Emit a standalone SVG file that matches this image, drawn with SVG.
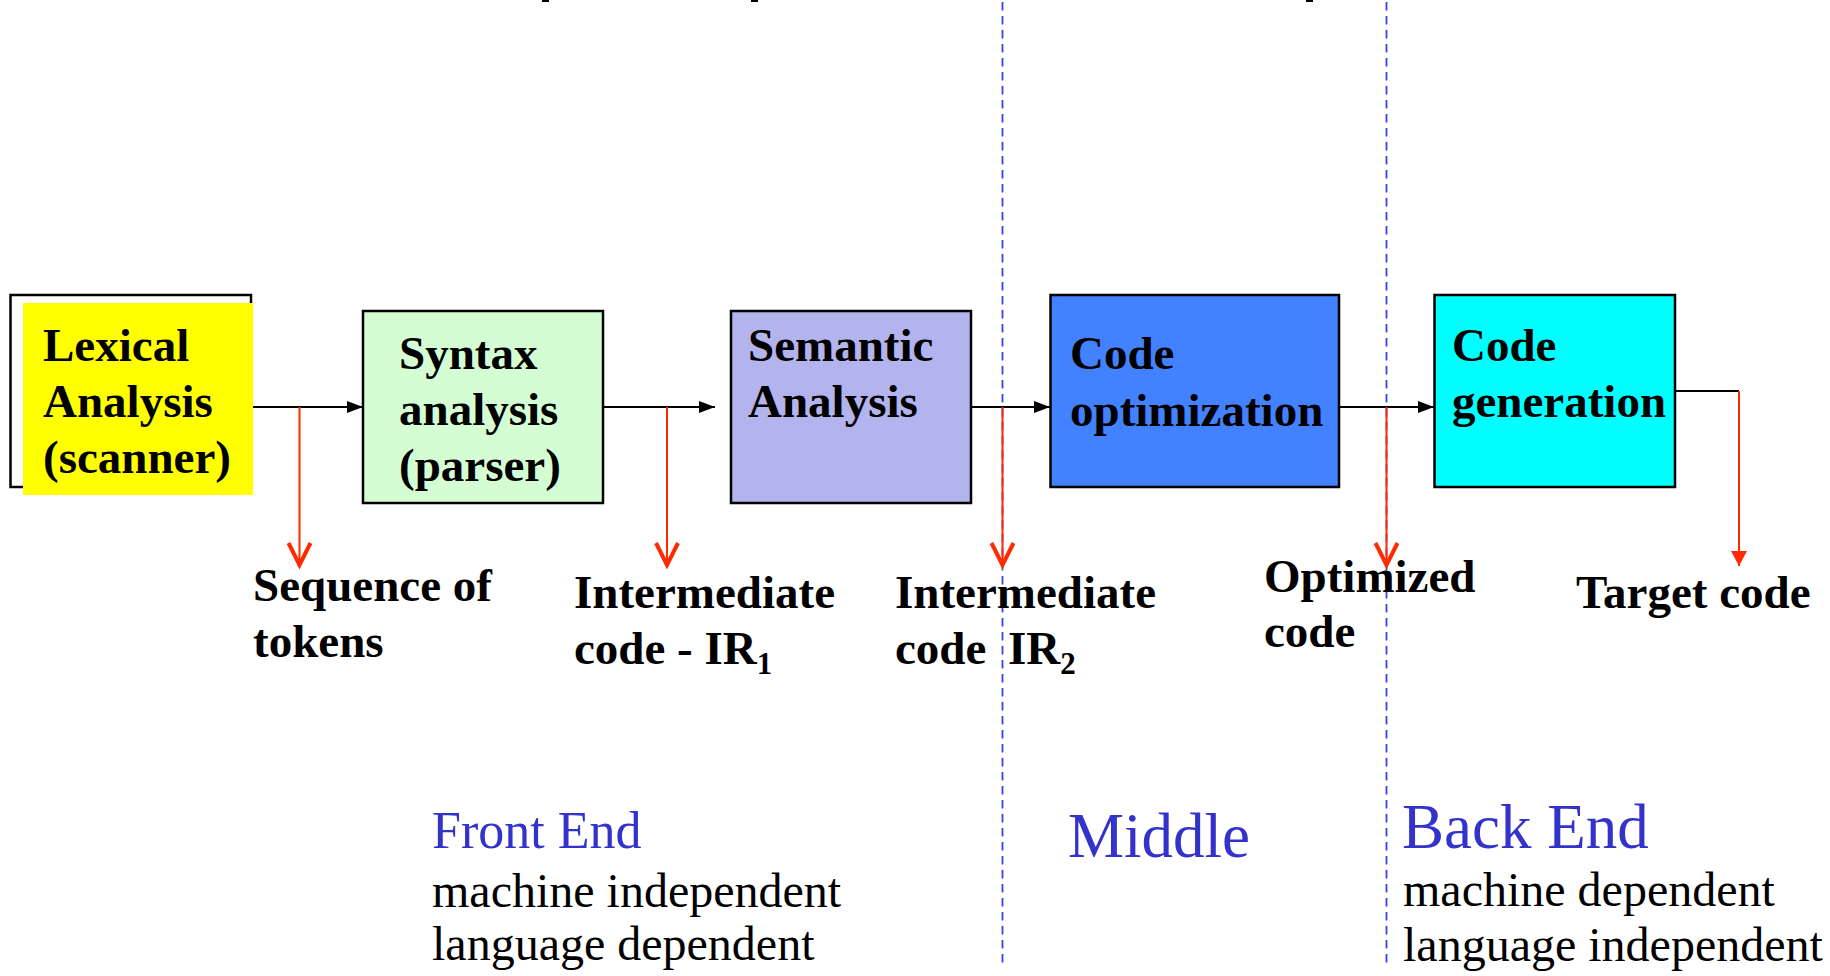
<svg xmlns="http://www.w3.org/2000/svg" width="1830" height="976" viewBox="0 0 1830 976">
<style>
.box{stroke:#000;stroke-width:2.5}
.lbl{font-family:"Liberation Serif","Times New Roman",serif;font-weight:bold;font-size:47px;fill:#000}
.sub{font-size:31px}
.reg{font-family:"Liberation Serif","Times New Roman",serif;font-size:48px;fill:#000}
.blue{fill:#3333cc}
.flow{stroke:#000;stroke-width:2;fill:none}
.red{stroke:#ff2a00;stroke-width:2;fill:none}
.div{stroke:#3a46d8;stroke-width:1.8;stroke-dasharray:8.5 5.5;fill:none}
</style>
<defs>
<marker id="ah" markerUnits="userSpaceOnUse" markerWidth="16" markerHeight="12" refX="16" refY="6" orient="auto" overflow="visible">
<path d="M0,0 L16,6 L0,12 z" fill="#000"/>
</marker>
<marker id="vh" markerUnits="userSpaceOnUse" markerWidth="24" markerHeight="24" refX="22" refY="0" orient="auto" overflow="visible">
<path d="M0,-11 L22,0 L0,11" fill="none" stroke="#ff2a00" stroke-width="4" stroke-linejoin="miter"/>
</marker>
<marker id="th" markerUnits="userSpaceOnUse" markerWidth="16" markerHeight="16" refX="15" refY="0" orient="auto" overflow="visible">
<path d="M0,-8 L15,0 L0,8 z" fill="#ff2a00"/>
</marker>
</defs>
<rect width="1830" height="976" fill="#fff"/>
<g id="title-fragments" fill="#000">
<rect x="542" y="0" width="7" height="2"/>
<rect x="751" y="0" width="7" height="2"/>
<rect x="1306" y="0" width="7" height="2"/>
</g>
<g id="dividers">
<line class="div" x1="1002.5" y1="2" x2="1002.5" y2="968"/>
<line class="div" x1="1386.5" y1="2" x2="1386.5" y2="968"/>
</g>
<g id="connectors">
<line class="flow" x1="251" y1="407" x2="363" y2="407" marker-end="url(#ah)"/>
<line class="flow" x1="603" y1="407" x2="715" y2="407" marker-end="url(#ah)"/>
<line class="flow" x1="971" y1="407" x2="1050" y2="407" marker-end="url(#ah)"/>
<line class="flow" x1="1339" y1="407" x2="1434" y2="407" marker-end="url(#ah)"/>
<polyline class="flow" points="1675,391 1739,391"/>
<line class="red" x1="299.5" y1="407" x2="299.5" y2="565" marker-end="url(#vh)"/>
<line class="red" x1="667" y1="407" x2="667" y2="565" marker-end="url(#vh)"/>
<line class="red" x1="1002.5" y1="407" x2="1002.5" y2="565" marker-end="url(#vh)"/>
<line class="red" x1="1386.5" y1="407" x2="1386.5" y2="565" marker-end="url(#vh)"/>
<line class="red" x1="1739" y1="391" x2="1739" y2="566" marker-end="url(#th)"/>
</g>
<g id="lexical">
<rect x="10.5" y="295" width="240.5" height="192" fill="#fff" class="box"/>
<rect x="23" y="303" width="230" height="192" fill="#ffff00"/>
<text class="lbl"><tspan x="43" y="361">Lexical</tspan><tspan x="43" y="417">Analysis</tspan><tspan x="43" y="473">(scanner)</tspan></text>
</g>
<g id="syntax">
<rect x="363" y="311" width="240" height="192" fill="#d4fdd4" class="box"/>
<text class="lbl"><tspan x="399" y="369">Syntax</tspan><tspan x="399" y="425">analysis</tspan><tspan x="399" y="481">(parser)</tspan></text>
</g>
<g id="semantic">
<rect x="731" y="311" width="240" height="192" fill="#b3b3ee" class="box"/>
<text class="lbl"><tspan x="748" y="361">Semantic</tspan><tspan x="748" y="417">Analysis</tspan></text>
</g>
<g id="codeopt">
<rect x="1050.5" y="295" width="288.5" height="192" fill="#4281ff" class="box"/>
<text class="lbl"><tspan x="1070" y="369">Code</tspan><tspan x="1070" y="426">optimization</tspan></text>
</g>
<g id="codegen">
<rect x="1434.5" y="295" width="240.5" height="192" fill="#00ffff" class="box"/>
<text class="lbl"><tspan x="1452" y="361">Code</tspan><tspan x="1452" y="417">generation</tspan></text>
</g>
<g id="label-tokens">
<text class="lbl"><tspan x="253" y="601">Sequence of</tspan><tspan x="253" y="657">tokens</tspan></text>
</g>
<g id="label-ir1">
<text class="lbl"><tspan x="574" y="608">Intermediate</tspan><tspan x="574" y="664">code - IR</tspan><tspan class="sub" dy="10">1</tspan></text>
</g>
<g id="label-ir2">
<text class="lbl"><tspan x="895" y="608">Intermediate</tspan><tspan x="895" y="664">code</tspan><tspan x="1008" y="664">IR</tspan><tspan class="sub" dy="10">2</tspan></text>
</g>
<g id="label-optimized">
<text class="lbl"><tspan x="1264" y="592">Optimized</tspan><tspan x="1264" y="647">code</tspan></text>
</g>
<g id="label-target">
<text class="lbl" x="1576" y="608">Target code</text>
</g>
<g id="front-end">
<text class="reg blue" x="432" y="848" style="font-size:52px">Front End</text>
<text class="reg" x="432" y="907">machine independent</text>
<text class="reg" x="432" y="960">language dependent</text>
</g>
<g id="middle">
<text class="reg blue" x="1068" y="857" style="font-size:63px">Middle</text>
</g>
<g id="back-end">
<text class="reg blue" x="1402" y="848" style="font-size:63px">Back End</text>
<text class="reg" x="1403" y="906">machine dependent</text>
<text class="reg" x="1403" y="961">language independent</text>
</g>
</svg>
